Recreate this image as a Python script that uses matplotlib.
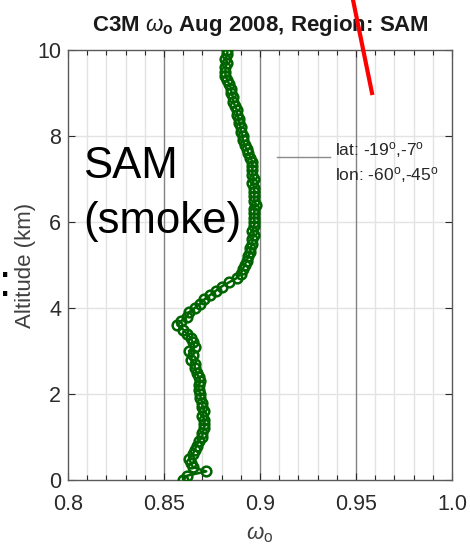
"""
C3M single scattering albedo profile, Aug 2008, SAM region.
"""

import numpy as np
import matplotlib
matplotlib.use("Agg")
import matplotlib.pyplot as plt
from matplotlib.lines import Line2D

plt.rcParams['font.family'] = ['Liberation Sans', 'DejaVu Sans']
plt.rcParams['mathtext.fontset'] = 'custom'
plt.rcParams['mathtext.rm'] = 'Liberation Sans'
plt.rcParams['mathtext.it'] = 'Liberation Sans:italic'
plt.rcParams['mathtext.bf'] = 'Liberation Sans:bold'

# ---------------------------------------------------------------------------
# Data
altitude_km = [
    0.0, 0.1, 0.2, 0.3, 0.4, 0.5, 0.6, 0.7, 0.8, 0.9,
    1.0, 1.1, 1.2, 1.3, 1.4, 1.5, 1.6, 1.7, 1.8, 1.9,
    2.0, 2.1, 2.2, 2.3, 2.4, 2.5, 2.6, 2.7, 2.8, 2.9,
    3.0, 3.1, 3.2, 3.3, 3.4, 3.5, 3.6, 3.7, 3.8, 3.9,
    4.0, 4.1, 4.2, 4.3, 4.4, 4.5, 4.6, 4.7, 4.8, 4.9,
    5.0, 5.1, 5.2, 5.3, 5.4, 5.5, 5.6, 5.7, 5.8, 5.9,
    6.0, 6.1, 6.2, 6.3, 6.4, 6.5, 6.6, 6.7, 6.8, 6.9,
    7.0, 7.1, 7.2, 7.3, 7.4, 7.5, 7.6, 7.7, 7.8, 7.9,
    8.0, 8.1, 8.2, 8.3, 8.4, 8.5, 8.6, 8.7, 8.8, 8.9,
    9.0, 9.1, 9.2, 9.3, 9.4, 9.5, 9.6, 9.7, 9.8, 9.9,
    10.0,
]
omega_o = [
    0.860, 0.862, 0.872, 0.865, 0.864, 0.863, 0.865, 0.866, 0.867, 0.868,
    0.870, 0.870, 0.871, 0.871, 0.871, 0.870, 0.871, 0.870, 0.870, 0.869,
    0.869, 0.868, 0.868, 0.869, 0.868, 0.867, 0.866, 0.866, 0.864, 0.865,
    0.863, 0.866, 0.865, 0.864, 0.862, 0.860, 0.857, 0.859, 0.862, 0.863,
    0.866, 0.869, 0.871, 0.874, 0.877, 0.880, 0.884, 0.888, 0.890, 0.891,
    0.892, 0.893, 0.894, 0.895, 0.895, 0.896, 0.896, 0.897, 0.896, 0.897,
    0.897, 0.897, 0.897, 0.897, 0.898, 0.897, 0.897, 0.897, 0.897, 0.896,
    0.897, 0.896, 0.896, 0.896, 0.896, 0.895, 0.894, 0.893, 0.892, 0.891,
    0.891, 0.890, 0.890, 0.889, 0.889, 0.888, 0.888, 0.887, 0.886, 0.886,
    0.885, 0.885, 0.884, 0.883, 0.882, 0.882, 0.882, 0.883, 0.882, 0.883,
    0.883,
]

x_ticks = [0.8, 0.85, 0.9, 0.95, 1.0]
x_tick_labels = ["0.8", "0.85", "0.9", "0.95", "1.0"]
y_ticks = [0, 2, 4, 6, 8, 10]
x_minor = [0.81, 0.82, 0.83, 0.84, 0.86, 0.87, 0.88, 0.89,
           0.91, 0.92, 0.93, 0.94, 0.96, 0.97, 0.98, 0.99]
x_major_grid = [0.85, 0.9, 0.95]

# ---------------------------------------------------------------------------
W, H = 470, 546
fig = plt.figure(figsize=(W / 100, H / 100), dpi=100)
ax = fig.add_axes([68 / W, 66 / H, 384 / W, 430 / H])

tick_col = "#2b2b2b"

# grid
for xv in x_minor:
    ax.axvline(xv, color="#e3e3e3", lw=1.0, zorder=0)
for yv in y_ticks[1:-1]:
    ax.axhline(yv, color="#e3e3e3", lw=1.0, zorder=0)
for xv in x_major_grid:
    ax.axvline(xv, color="#828282", lw=1.0, zorder=0.5)

ax.plot(omega_o, altitude_km, color="#006400", lw=1.8, marker="o",
        markersize=7.0, markerfacecolor="none", markeredgewidth=1.8,
        zorder=3)

ax.set_xlim(0.8, 1.0)
ax.set_ylim(0, 10)
ax.set_xticks(x_ticks)
ax.set_xticklabels(x_tick_labels)
ax.set_xticks(x_minor, minor=True)
ax.set_yticks(y_ticks)
ax.tick_params(axis="both", which="both", direction="in", top=True,
               right=True, colors=tick_col, labelsize=15.5, width=0.8)
ax.tick_params(axis="both", which="major", length=5)
ax.tick_params(axis="x", which="major", pad=10)
ax.tick_params(axis="y", which="major", pad=5)
ax.tick_params(axis="x", which="minor", length=3.5)
for sp in ax.spines.values():
    sp.set_color("#5a5a5a")
    sp.set_linewidth(1.0)

ax.set_title(r"C3M $\omega_{\mathbf{o}}$ Aug 2008, Region: SAM",
             fontsize=16, fontweight="bold", color="#1a1a1a", pad=14)
ax.set_ylabel("Altitude (km)", fontsize=16, color="#404040", labelpad=1)
ax.set_xlabel(r"$\omega_{\mathrm{o}}$", fontsize=16, color="#404040")
ax.xaxis.set_label_coords(0.5, -0.103)

# legend-like annotation
ax.add_line(Line2D([0.9089, 0.9365], [7.51, 7.51], color="#8a8a8a", lw=1.0,
                   zorder=4))
ax.text(0.939, 7.67, r"lat: -19$^{\mathrm{o}}$,-7$^{\mathrm{o}}$",
        fontsize=12.5, color="#262626", va="center", ha="left")
ax.text(0.939, 7.10, r"lon: -60$^{\mathrm{o}}$,-45$^{\mathrm{o}}$",
        fontsize=12.5, color="#262626", va="center", ha="left")

# big overlay label
fig.text(83 / W, 1 - 178 / H, "SAM", fontsize=31.5, color="black",
         ha="left", va="baseline")
fig.text(83 / W, 1 - 233 / H, "(smoke)", fontsize=31.5, color="black",
         ha="left", va="baseline")
fig.text(5 / W, 1 - 296 / H, ":", fontsize=32, color="black",
         ha="center", va="baseline")

# red pointer line (runs off the top of the figure)
fig.add_artist(Line2D([352 / W, 372 / W], [1 + 5 / H, 1 - 93 / H],
                      transform=fig.transFigure, color="#ff0000", lw=3.0,
                      clip_on=False, zorder=10))

fig.savefig("out.png", dpi=100)
